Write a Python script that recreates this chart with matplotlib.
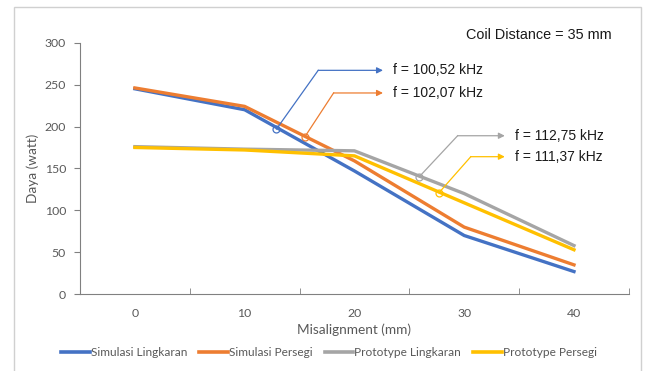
import matplotlib
matplotlib.use("Agg")
import matplotlib.pyplot as plt
from matplotlib.patches import Rectangle

# data
misalignment = [0, 10, 20, 30, 40]
sim_lingkaran = [245, 220, 147, 70, 27]
sim_persegi = [246, 224, 159, 80, 35]
proto_lingkaran = [176, 173, 171, 120, 58]
proto_persegi = [175, 172, 165, 109, 53]

series = [
    ("Simulasi Lingkaran", sim_lingkaran, "#4472C4"),
    ("Simulasi Persegi", sim_persegi, "#ED7D31"),
    ("Prototype Lingkaran", proto_lingkaran, "#A5A5A5"),
    ("Prototype Persegi", proto_persegi, "#FFC000"),
]

# resonant-frequency callouts: (label, point on line, elbow, arrow end, color)
callouts = [
    ("f = 100,52 kHz", (12.9, 197), (16.7, 267), (22.6, 267), "#4472C4"),
    ("f = 102,07 kHz", (15.5, 188), (18.1, 240), (22.6, 240), "#ED7D31"),
    ("f = 112,75 kHz", (25.9, 140), (29.4, 189), (33.7, 189), "#A5A5A5"),
    ("f = 111,37 kHz", (27.7, 121), (30.6, 164), (33.7, 164), "#FFC000"),
]

TXT = "#595959"
plt.rcParams["font.family"] = ["Lato", "DejaVu Sans"]

fig = plt.figure(figsize=(6.45, 3.71), dpi=100)
ax = fig.add_axes([0.124, 0.207, 0.851, 0.678])

for label, y, c in series:
    ax.plot(misalignment, y, color=c, lw=2.4, label=label, solid_joinstyle="miter")

for text, p, e, end, c in callouts:
    ax.plot([p[0], e[0]], [p[1], e[1]], color=c, lw=0.9)
    ax.plot(p[0], p[1], "o", ms=5, mfc="none", mec=c, mew=0.9)
    ax.annotate("", xy=end, xytext=e,
                arrowprops=dict(arrowstyle="-|>", color=c, lw=0.9,
                                mutation_scale=9, shrinkA=0, shrinkB=0))
    ax.text(end[0] + 0.9, end[1], text, va="center", ha="left", fontsize=10,
            family="Liberation Sans", color="#1a1a1a")

ax.set_xlim(-5, 45)
ax.set_ylim(0, 300)
ax.set_xticks(misalignment)
ax.set_xticks(range(-5, 46, 5), minor=True)
ax.set_yticks(range(0, 301, 50))
ax.tick_params(axis="x", which="both", direction="in", length=4, color="#808080",
               labelsize=8.8, labelcolor=TXT, pad=10)
ax.tick_params(axis="x", which="major", length=0)
ax.tick_params(axis="y", length=4, color="#808080", labelsize=8.8, labelcolor=TXT, pad=6)
for s in ("top", "right"):
    ax.spines[s].set_visible(False)
for s in ("left", "bottom"):
    ax.spines[s].set_color("#808080")
    ax.spines[s].set_linewidth(0.8)

ax.set_xlabel("Misalignment (mm)", fontsize=9.8, color=TXT, labelpad=3)
ax.set_ylabel("Daya (watt)", fontsize=9.8, color=TXT, labelpad=4)

fig.text(0.948, 0.905, "Coil Distance = 35 mm", ha="right", va="center",
         fontsize=10.4, family="Liberation Sans", color="#1a1a1a")

leg = fig.legend(loc="center", bbox_to_anchor=(0.51, 0.05), ncol=4, frameon=False,
                 fontsize=8.6, handlelength=2.4, handletextpad=0.1, columnspacing=1.0,
                 labelcolor=TXT)
for h in leg.get_lines():
    h.set_linewidth(2.6)

fig.patches.append(Rectangle((0.021, -0.02), 0.973, 1.0, transform=fig.transFigure,
                             fill=False, ec="#d0d0d0", lw=1))

fig.savefig("out.png", dpi=100)
